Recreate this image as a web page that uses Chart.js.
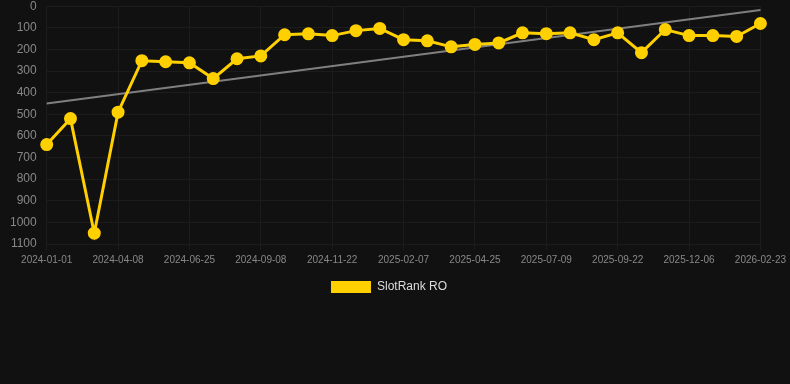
<!DOCTYPE html>
<html>
<head>
<meta charset="utf-8">
<script src="https://cdn.jsdelivr.net/npm/chart.js@4.4.1/dist/chart.umd.min.js"></script>
<style>
  html, body { margin: 0; padding: 0; background: #111111; overflow: hidden; }
  #wrap { position: relative; top: -11px; width: 790px; height: 314px; }
</style>
</head>
<body>
<div id="wrap"><canvas id="rankChart"></canvas></div>
<script>
// dates on the x axis (only every third one is shown)
const dates = [
  "2024-01-01", "2024-02-03", "2024-03-06", "2024-04-08", "2024-05-04", "2024-05-30",
  "2024-06-25", "2024-07-20", "2024-08-14", "2024-09-08", "2024-10-03", "2024-10-28",
  "2024-11-22", "2024-12-18", "2025-01-13", "2025-02-07", "2025-03-05", "2025-03-31",
  "2025-04-25", "2025-05-20", "2025-06-14", "2025-07-09", "2025-08-03", "2025-08-28",
  "2025-09-22", "2025-10-17", "2025-11-11", "2025-12-06", "2025-12-31", "2026-01-28",
  "2026-02-23"
];

// rank values (lower is better, axis is reversed)
const rankRO = [
  640, 520, 1050, 490, 252, 257, 262, 335, 243, 230, 132, 128, 136, 113, 103, 155,
  160, 188, 177, 170, 123, 127, 123, 155, 123, 215, 108, 136, 136, 140, 80
];

// trend line, read at its two ends
const trendStart = 450;
const trendEnd = 18;

const yTicks = [0, 100, 200, 300, 400, 500, 600, 700, 800, 900, 1000, 1100];

// trend only has its first and last point, the line spans the gap
const trend = dates.map(() => null);
trend[0] = trendStart;
trend[trend.length - 1] = trendEnd;

const ctx = document.getElementById("rankChart").getContext("2d");
new Chart(ctx, {
  type: "line",
  data: {
    labels: dates,
    datasets: [
      {
        label: "SlotRank RO",
        data: rankRO,
        borderColor: "#FFD000",
        backgroundColor: "#FFD000",
        borderWidth: 3,
        pointRadius: 5,
        pointHoverRadius: 6,
        tension: 0
      },
      {
        label: "trend",
        data: trend,
        spanGaps: true,
        borderColor: "rgba(140,140,140,0.9)",
        borderWidth: 2,
        pointRadius: 0,
        tension: 0
      }
    ]
  },
  options: {
    responsive: true,
    maintainAspectRatio: false,
    animation: false,
    layout: { padding: { left: 0, right: 2, top: 0, bottom: 0 } },
    plugins: {
      legend: {
        position: "bottom",
        labels: {
          color: "#dddddd",
          font: { family: "Liberation Sans, Arial", size: 12 },
          boxWidth: 40,
          boxHeight: 12,
          padding: 11,
          // keep only the rank series, and draw the box without its thick border
          generateLabels: chart => {
            const items = Chart.defaults.plugins.legend.labels.generateLabels(chart);
            return items
              .filter(item => item.text !== "trend")
              .map(item => Object.assign(item, { lineWidth: 0, text: item.text + "   " }));
          }
        }
      },
      tooltip: { enabled: false }
    },
    scales: {
      x: {
        grid: { color: "#1c1c1c", tickLength: 6 },
        border: { color: "#1c1c1c" },
        ticks: {
          color: "#888888",
          padding: 4,
          font: { family: "Liberation Sans, Arial", size: 10 },
          maxRotation: 0,
          autoSkip: true,
          maxTicksLimit: 11
        }
      },
      y: {
        reverse: true,
        min: 0,
        max: 1100,
        afterBuildTicks: axis => { axis.ticks = yTicks.map(v => ({ value: v })); },
        grid: { color: "#1c1c1c", drawTicks: false },
        border: { display: false },
        ticks: {
          color: "#888888",
          padding: 10,
          font: { family: "Liberation Sans, Arial", size: 12 },
          callback: value => String(value)
        }
      }
    }
  }
});
</script>
</body>
</html>
